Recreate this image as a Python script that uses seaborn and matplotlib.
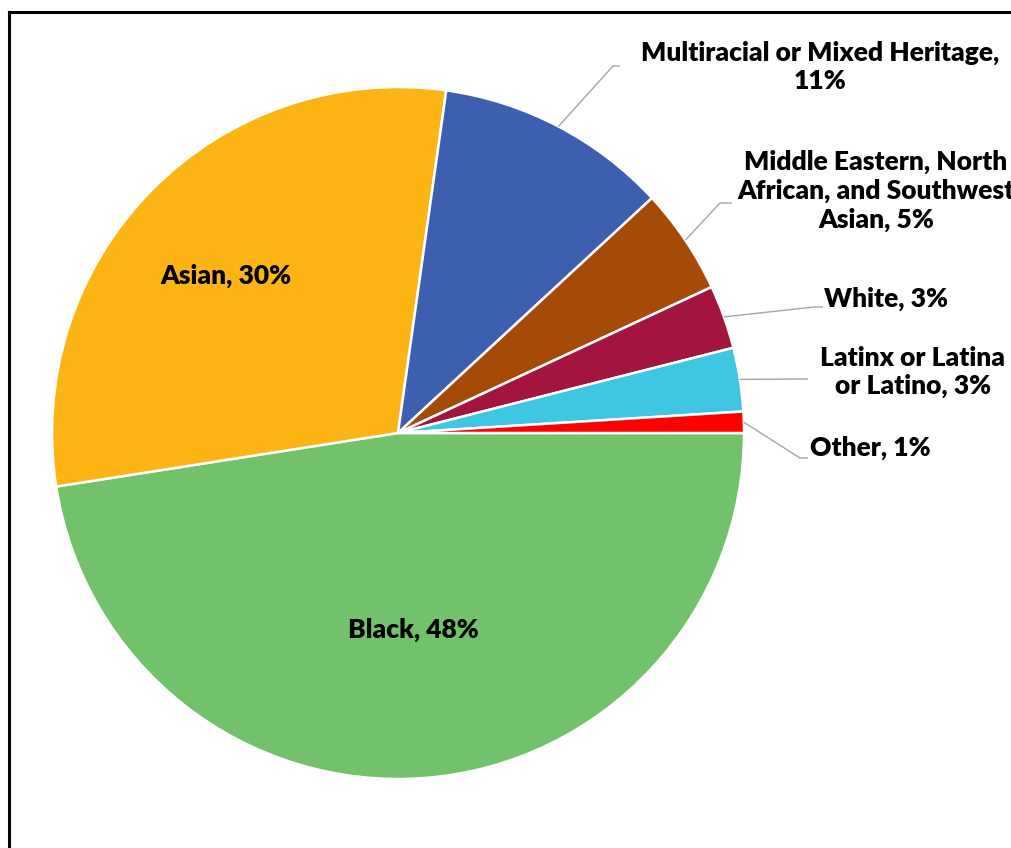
import matplotlib
matplotlib.use("Agg")
import matplotlib.pyplot as plt
import seaborn as sns
import numpy as np
from matplotlib.lines import Line2D

# Share of students by race / ethnicity (percent)
groups = ["Black", "Asian", "Multiracial or Mixed Heritage",
          "Middle Eastern, North\nAfrican, and Southwest\nAsian",
          "White", "Latinx or Latina\nor Latino", "Other"]
shares = [48, 30, 11, 5, 3, 3, 1]
separators = [", ", ", ", ",\n", ", ", ", ", ", ", ", "]
colors = ["#71C26A", "#FDB515", "#3C5FAF", "#A54A07", "#A3143F", "#3EC6E3", "#FF0000"]

sns.set_theme(style="white")
plt.rcParams["font.family"] = ["Lato", "DejaVu Sans"]

W, H = 1011, 848
CX, CY, R = 398, 433, 346  # pie centre and radius in pixels


def px(x, y):
    """Pixel position (from top-left) to data coordinates."""
    return (x - CX) / R, (CY - y) / R


fig = plt.figure(figsize=(W / 100, H / 100), dpi=100)
ax = fig.add_axes([0, 0, 1, 1])

wedges, _ = ax.pie(shares, colors=colors, startangle=0, counterclock=False,
                   radius=1.0,
                   wedgeprops=dict(edgecolor="white", linewidth=1.8))

ax.set_xlim(-CX / R, (W - CX) / R)
ax.set_ylim(-(H - CY) / R, CY / R)
ax.set_aspect("equal")
ax.axis("off")

labels = [g + s + f"{v}%" for g, s, v in zip(groups, separators, shares)]
mid = [np.deg2rad((w.theta1 + w.theta2) / 2) for w in wedges]

FS = 19
# Labels inside the two large slices (text centre in pixels)
inner = {0: (413, 630), 1: (226, 276)}
for i, tpos in inner.items():
    tx, ty = px(*tpos)
    ax.text(tx, ty, labels[i], ha="center", va="center", fontsize=FS,
            fontweight="heavy", color="black")

# Outside labels with leader lines: (text centre, elbow, line end) in pixels
outer = {
    2: ((820, 67), (613, 66), (620, 66)),
    3: ((876, 191), (720, 203), (732, 203)),
    4: ((886, 299), (814, 307), (823, 307)),
    5: ((913, 372), (800, 379), (808, 379)),
    6: ((870, 448), (800, 458), (808, 458)),
}
for i, (tpos, elbow, end) in outer.items():
    sx, sy = 1.0 * np.cos(mid[i]), 1.0 * np.sin(mid[i])
    ex, ey = px(*elbow)
    fx, fy = px(*end)
    ax.plot([sx, ex, fx], [sy, ey, fy], color="#A6A6A6", lw=1.0,
            solid_capstyle="butt", zorder=1)
    tx, ty = px(*tpos)
    ax.text(tx, ty, labels[i], ha="center", va="center", fontsize=FS,
            fontweight="heavy", color="black", linespacing=1.22,
            multialignment="center")

# Outer frame: left and top edges
fig.add_artist(Line2D([8.5 / W, 8.5 / W], [-0.05, 1 - 11.5 / H],
                      transform=fig.transFigure, color="black", lw=2.2,
                      solid_capstyle="projecting"))
fig.add_artist(Line2D([8.5 / W, 1.05], [1 - 11.5 / H, 1 - 11.5 / H],
                      transform=fig.transFigure, color="black", lw=2.2,
                      solid_capstyle="projecting"))

fig.savefig("out.png", dpi=100, facecolor="white")
